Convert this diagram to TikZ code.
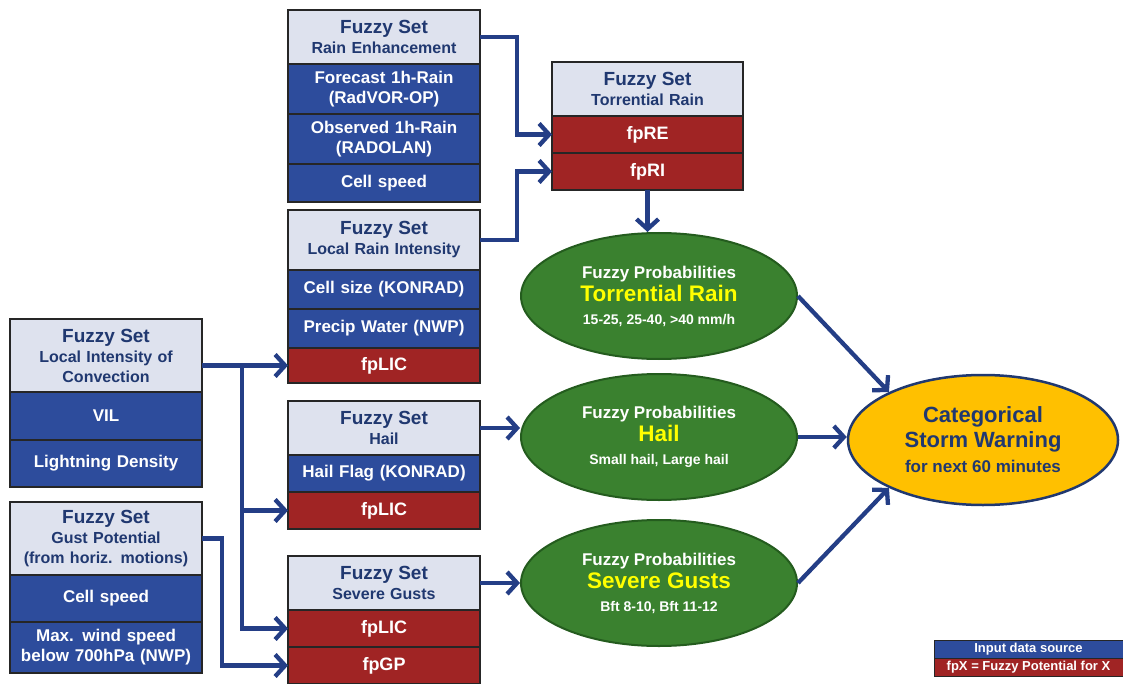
\documentclass[tikz,border=0pt]{standalone}
\usepackage{fontspec}
\setmainfont{Liberation Sans}
\usetikzlibrary{arrows.meta,positioning,shapes.geometric}
\definecolor{setgray}{HTML}{DEE2EE}
\definecolor{srcblue}{HTML}{2D4C9C}
\definecolor{fpred}{HTML}{A02424}
\definecolor{probgreen}{HTML}{3A812F}
\definecolor{probedge}{HTML}{245C1E}
\definecolor{warnyellow}{HTML}{FFC000}
\definecolor{navy}{HTML}{203870}
\definecolor{arrowblue}{HTML}{243E86}
\definecolor{hiyellow}{HTML}{FFFF00}
\tikzset{
    setcell/.style={draw=black!85, line width=1.2pt, align=center, minimum width=192pt, text width=188pt, inner sep=0pt, outer sep=0pt},
    setheader/.style={setcell, fill=setgray, text=navy, font=\bfseries\fontsize{16}{20}\selectfont},
    srccell/.style={setcell, fill=srcblue, text=white, font=\bfseries\fontsize{17}{20}\selectfont},
    fpcell/.style={setcell, fill=fpred, text=white, font=\bfseries\fontsize{18}{20}\selectfont},
    probnode/.style={ellipse, draw=probedge, line width=2pt, fill=probgreen, text=white, align=center, minimum width=276pt, minimum height=126pt, inner sep=0pt, font=\bfseries\fontsize{14}{23}\selectfont},
    warnnode/.style={ellipse, draw=navy, line width=2.5pt, fill=warnyellow, text=navy, align=center, minimum width=270pt, minimum height=130pt, inner sep=0pt, font=\bfseries\fontsize{17}{25}\selectfont},
    flowarrow/.style={-{Straight Barb[length=10pt,width=22pt]}, line width=4.3pt, draw=arrowblue},
    legendcell/.style={draw=black!85, line width=1pt, text=white, font=\bfseries\fontsize{13}{14}\selectfont, minimum width=189pt, minimum height=18pt, inner sep=0pt, outer sep=0pt}
}

\begin{document}
\begin{tikzpicture}[x=1pt, y=-1pt]
    \useasboundingbox (0,0) rectangle (1123,684);

    % rain enhancement
    \node[setheader, minimum height=54pt] (rehead) at (384,37) {{\fontsize{19}{20}\selectfont Fuzzy Set}\\Rain Enhancement};
    \node[srccell, minimum height=50pt, below=0pt of rehead] (refcst) {Forecast 1h-Rain\\(RadVOR-OP)};
    \node[srccell, minimum height=50pt, below=0pt of refcst] (reobs) {Observed 1h-Rain\\(RADOLAN)};
    \node[srccell, minimum height=38pt, below=0pt of reobs] (respeed) {Cell speed};

    % local rain intensity
    \node[setheader, minimum height=60pt] (lrihead) at (384,240) {{\fontsize{19}{20}\selectfont Fuzzy Set}\\Local Rain Intensity};
    \node[srccell, minimum height=39pt, below=0pt of lrihead] (lrisize) {Cell size (KONRAD)};
    \node[srccell, minimum height=39pt, below=0pt of lrisize] (lriwater) {Precip Water (NWP)};
    \node[fpcell, minimum height=35pt, below=0pt of lriwater] (lrilic) {fpLIC};

    % hail
    \node[setheader, minimum height=54pt] (hhead) at (384,428) {{\fontsize{19}{20}\selectfont Fuzzy Set}\\Hail};
    \node[srccell, minimum height=37pt, below=0pt of hhead] (hflag) {Hail Flag (KONRAD)};
    \node[fpcell, minimum height=37pt, below=0pt of hflag] (hlic) {fpLIC};

    % severe gusts
    \node[setheader, minimum height=54pt] (sghead) at (384,583) {{\fontsize{19}{20}\selectfont Fuzzy Set}\\Severe Gusts};
    \node[fpcell, minimum height=37pt, below=0pt of sghead] (sglic) {fpLIC};
    \node[fpcell, minimum height=37pt, below=0pt of sglic] (sggp) {fpGP};

    % torrential rain
    \node[setheader, minimum width=191pt, minimum height=54pt] (trhead) at (647.5,89) {{\fontsize{19}{20}\selectfont Fuzzy Set}\\Torrential Rain};
    \node[fpcell, minimum width=191pt, minimum height=37pt, below=0pt of trhead] (trre) {fpRE};
    \node[fpcell, minimum width=191pt, minimum height=37pt, below=0pt of trre] (trri) {fpRI};

    % left column
    \node[setheader, minimum height=73pt] (lichead) at (106,355.5) {{\fontsize{19}{20}\selectfont Fuzzy Set}\\Local Intensity of\\Convection};
    \node[srccell, minimum height=48pt, below=0pt of lichead] (licvil) {VIL};
    \node[srccell, minimum height=47pt, below=0pt of licvil] (licdens) {Lightning Density};
    \node[setheader, minimum height=73pt] (gphead) at (106,538.5) {{\fontsize{19}{20}\selectfont Fuzzy Set}\\Gust Potential\\(from horiz. motions)};
    \node[srccell, minimum height=47pt, below=0pt of gphead] (gpspeed) {Cell speed};
    \node[srccell, minimum height=51pt, below=0pt of gpspeed] (gpwind) {Max. wind speed\\below 700hPa (NWP)};

    % probabilities
    \node[probnode] (trprob) at (659,296) {{\fontsize{17}{18}\selectfont Fuzzy Probabilities}\\{\fontsize{22.5}{24}\selectfont\color{hiyellow}Torrential Rain}\\15-25, 25-40, >40 mm/h};
    \node[probnode] (hprob) at (659,437) {{\fontsize{17}{18}\selectfont Fuzzy Probabilities}\\{\fontsize{22.5}{24}\selectfont\color{hiyellow}Hail}\\Small hail, Large hail};
    \node[probnode] (sgprob) at (659,583) {{\fontsize{17}{18}\selectfont Fuzzy Probabilities}\\{\fontsize{22.5}{24}\selectfont\color{hiyellow}Severe Gusts}\\Bft 8-10, Bft 11-12};
    \node[warnnode] (warn) at (983,440) {{\fontsize{22}{24}\selectfont Categorical}\\{\fontsize{22}{24}\selectfont Storm Warning}\\for next 60 minutes};

    % legend
    \node[legendcell, fill=srcblue] (legsrc) at (1028.5,649) {Input data source};
    \node[legendcell, fill=fpred, below=0pt of legsrc] (legfp) {fpX = Fuzzy Potential for X};

    % connectors
    \draw[flowarrow] (rehead.east) -- ++(37,0) |- (trre.west);
    \draw[flowarrow] (lrihead.east) -- ++(37,0) |- (trri.west);
    \draw[flowarrow] (trri.south) -- (trri.south |- trprob.north);
    \draw[flowarrow] (lichead.east |- lrilic.west) -- (lrilic.west);
    \path (lichead.east |- lrilic.west) ++(40,0) coordinate (licjoint);
    \draw[flowarrow] (licjoint) |- (hlic.west);
    \draw[flowarrow] (licjoint) |- (sglic.west);
    \draw[flowarrow] (gphead.east) -- ++(20,0) |- (sggp.west);
    \draw[flowarrow] (hhead.east) -- (hhead.east -| hprob.west);
    \draw[flowarrow] (sghead.east) -- (sgprob.west);
    \draw[flowarrow] (trprob.east) -- (warn.153);
    \draw[flowarrow] (hprob.east) -- (hprob.east -| warn.west);
    \draw[flowarrow] (sgprob.east) -- (warn.207);
\end{tikzpicture}
\end{document}
